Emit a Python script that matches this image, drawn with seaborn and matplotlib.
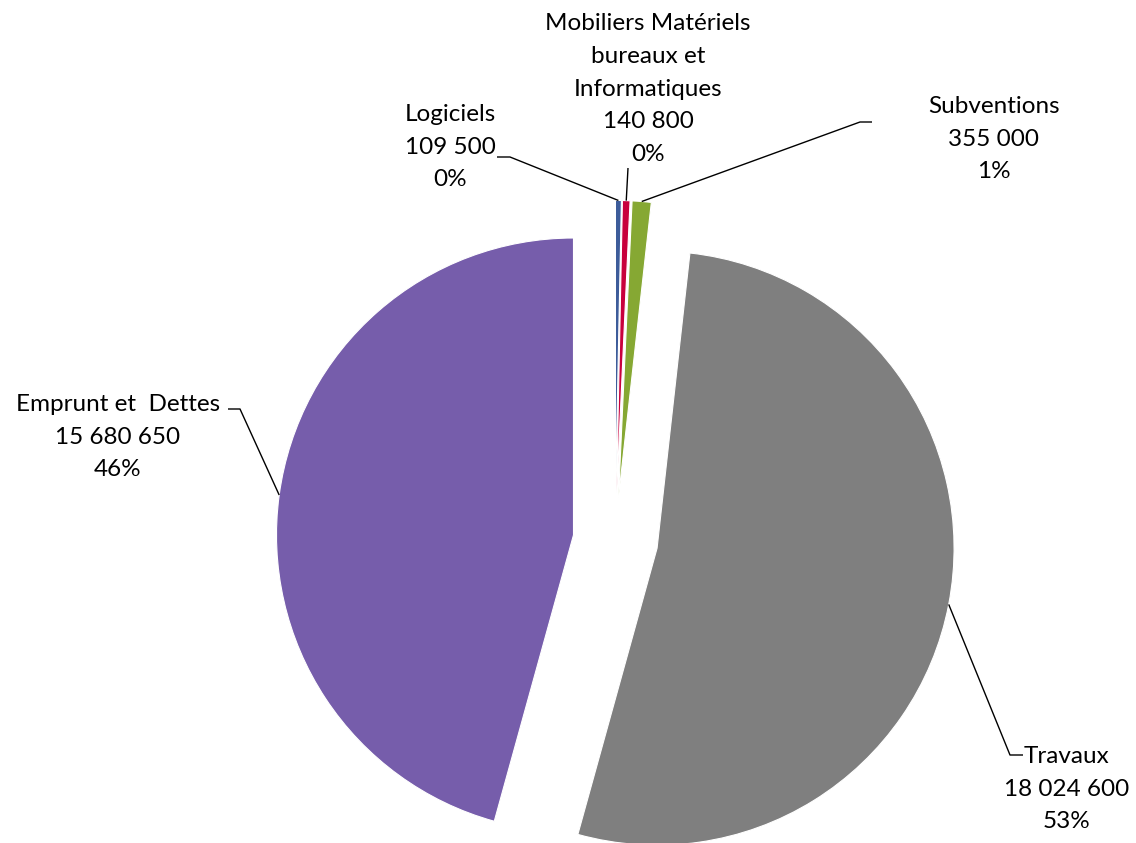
"""
Pie chart of the investment budget split (exploded slices, Excel-style labels).
Saved to out.png.
"""

import numpy as np
import matplotlib
matplotlib.use("Agg")
import matplotlib.pyplot as plt
import seaborn as sns

# data, clockwise from 12 o'clock
categories = ["Logiciels", "Mobiliers Matériels\nbureaux et\nInformatiques",
              "Subventions", "Travaux", "Emprunt et  Dettes"]
values = [109500, 140800, 355000, 18024600, 15680650]
colors = ["#3D5C9A", "#C8003C", "#86A833", "#7F7F7F", "#765DAB"]
explode = [0.15, 0.15, 0.15, 0.11, 0.175]

W, H = 1136, 843
R_PX = 297.0
CX, CY = 625.0, 542.0
SMALL_SHIFT = -10.0 / R_PX  # Excel puts the thin slices a bit left


def px(x, y):
    """image pixel -> data coords (radius 1 == R_PX pixels)"""
    return (x - CX) / R_PX, (CY - y) / R_PX


# label layout: text centre, elbow point, end of the short horizontal tick
label_text = [(450, 147), (648, 89), (994, 139), (1067, 789), (118, 437)]
label_elbow = [(510, 157), (628, 168), (860, 122), (1010, 755), (240, 409)]
label_tick = [(497, 157), None, (872, 122), (1023, 755), (228, 409)]


def fmt(v):
    return f"{v:,}".replace(",", " ")


def main():
    sns.set_theme(style="white")
    plt.rcParams["font.family"] = ["Lato", "DejaVu Sans"]

    fig = plt.figure(figsize=(W / 100, H / 100), dpi=100)
    ax = fig.add_axes([0, 0, 1, 1])

    wedges, _ = ax.pie(values, colors=colors, explode=explode, startangle=90,
                       counterclock=False, radius=1.0,
                       wedgeprops=dict(linewidth=0.8, edgecolor="white"))
    for w in wedges[:3]:
        cx, cy = w.center
        w.set_center((cx + SMALL_SHIFT, cy))

    total = sum(values)
    for i, w in enumerate(wedges):
        mid = np.deg2rad((w.theta1 + w.theta2) / 2)
        cx, cy = w.center
        ax0 = cx + w.r * np.cos(mid)
        ay0 = cy + w.r * np.sin(mid)
        ex, ey = px(*label_elbow[i])
        xs, ys = [ax0, ex], [ay0, ey]
        if label_tick[i] is not None:
            tx, ty = px(*label_tick[i])
            xs.append(tx)
            ys.append(ty)
        ax.plot(xs, ys, color="black", lw=1.0, solid_capstyle="butt")

        pct = round(values[i] / total * 100)
        tx, ty = px(*label_text[i])
        ax.text(tx, ty, f"{categories[i]}\n{fmt(values[i])}\n{pct}%",
                ha="center", va="center", fontsize=17.5, linespacing=1.68,
                color="black")

    x0, y0 = px(0, H)
    x1, y1 = px(W, 0)
    ax.set_xlim(x0, x1)
    ax.set_ylim(y0, y1)
    ax.set_aspect("equal")
    ax.axis("off")

    fig.savefig("out.png", dpi=100, facecolor="white")


if __name__ == "__main__":
    main()
